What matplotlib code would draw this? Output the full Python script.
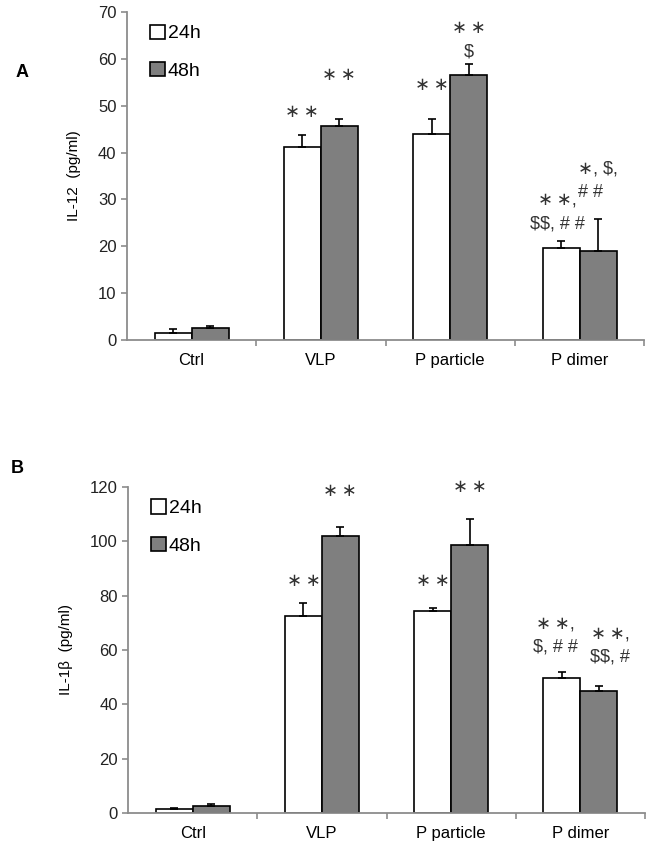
import numpy as np
import matplotlib
matplotlib.use('Agg')
import matplotlib.pyplot as plt

plt.rcParams['font.family'] = ['Liberation Sans', 'DejaVu Sans']

categories = ['Ctrl', 'VLP', 'P particle', 'P dimer']
series = ['24h', '48h']

il12_24 = [1.5, 41.2, 43.9, 19.7]
il12_24_err = [0.8, 2.5, 3.2, 1.4]
il12_48 = [2.5, 45.7, 56.5, 19.0]
il12_48_err = [0.5, 1.4, 2.3, 6.8]

il1b_24 = [1.5, 72.6, 74.3, 49.6]
il1b_24_err = [0.4, 4.6, 1.0, 2.4]
il1b_48 = [2.5, 101.8, 98.5, 45.0]
il1b_48_err = [1.0, 3.3, 9.8, 1.8]

S = '∗\u2009∗'
# (category, series index, text, x shift, y centre in data units)
il12_marks = [(1, 0, S, 0, 48.6), (1, 1, S, 0, 56.5), (2, 0, S, 0, 54.4),
              (2, 1, S + '\n$', 0, 64.0), (3, 0, S + ',\n$$, # #', -0.03, 27.3),
              (3, 1, '∗, $,\n# #', 0.0, 33.9)]
il1b_marks = [(1, 0, S, 0, 85.0), (1, 1, S, 0, 118.1), (2, 0, S, 0, 85.0),
              (2, 1, S, 0, 119.6), (3, 0, S + ',\n$, # #', -0.05, 65.3),
              (3, 1, S + ',\n$$, #', 0.09, 61.6)]

gray = '#7f7f7f'
axcol = '#8c8c8c'
w = 0.286


def panel(ax, v24, e24, v48, e48, marks, ymax, ystep, ylabel):
    x = np.arange(len(categories))
    z = np.zeros(len(x))
    ax.bar(x - w / 2, v24, w, color='white', edgecolor='black', linewidth=1.2,
           yerr=[z, e24], capsize=3, error_kw=dict(elinewidth=1.2, capthick=1.2),
           label=series[0], zorder=2)
    ax.bar(x + w / 2, v48, w, color=gray, edgecolor='black', linewidth=1.2,
           yerr=[z, e48], capsize=3, error_kw=dict(elinewidth=1.2, capthick=1.2),
           label=series[1], zorder=2)
    for c, s, txt, dx, y in marks:
        xx = c - w / 2 if s == 0 else c + w / 2
        ax.text(xx + dx, y, txt.replace('$', r'\$'), ha='center', va='center',
                fontsize=13, linespacing=1.5, color='#333333',
                multialignment='left' if s == 1 and c == 3 and ymax == 70 else 'center')
    ax.set_xlim(-0.5, len(categories) - 0.5)
    ax.set_ylim(0, ymax)
    ax.set_yticks(np.arange(0, ymax + 1, ystep))
    ax.set_xticks(x)
    ax.set_xticklabels(categories, fontsize=12)
    ax.set_xticks(np.arange(0.5, len(categories) - 0.4, 1), minor=True)
    ax.tick_params(axis='x', which='major', length=0, pad=9)
    ax.tick_params(axis='x', which='minor', length=4, color=axcol, width=1.2)
    ax.tick_params(axis='y', length=4, color=axcol, width=1.2, labelsize=12,
                   labelcolor='#222222')
    for sp in ['top', 'right']:
        ax.spines[sp].set_visible(False)
    for sp in ['left', 'bottom']:
        ax.spines[sp].set_color(axcol)
        ax.spines[sp].set_linewidth(1.3)
    ax.set_ylabel(ylabel, fontsize=11, labelpad=12)
    ax.legend(loc='upper left', bbox_to_anchor=(0.03, 0.985), frameon=False,
              fontsize=14, handlelength=0.75, handleheight=0.75, handletextpad=0.15,
              labelspacing=1.0, borderaxespad=0)


fig = plt.figure(figsize=(6.54, 8.48), dpi=100)
ax1 = fig.add_axes([0.194, 0.599, 0.791, 0.387])
ax2 = fig.add_axes([0.196, 0.041, 0.790, 0.385])

panel(ax1, il12_24, il12_24_err, il12_48, il12_48_err, il12_marks, 70, 10,
      'IL-12  (pg/ml)')
panel(ax2, il1b_24, il1b_24_err, il1b_48, il1b_48_err, il1b_marks, 120, 20,
      'IL-1β  (pg/ml)')

fig.text(0.034, 0.914, 'A', fontsize=13, fontweight='bold', ha='center', va='center')
fig.text(0.026, 0.448, 'B', fontsize=13, fontweight='bold', ha='center', va='center')

fig.savefig('out.png', dpi=100)
